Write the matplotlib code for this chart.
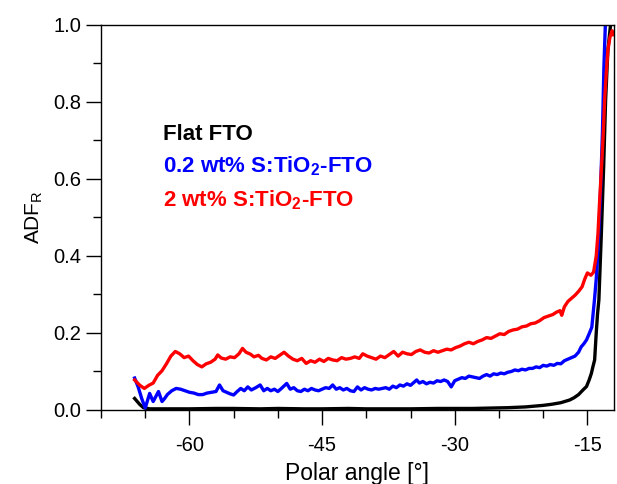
"""ADF_R vs polar angle for flat and S:TiO2-coated FTO."""

import matplotlib

matplotlib.use("Agg")
import matplotlib.pyplot as plt
from matplotlib.ticker import MultipleLocator

plt.rcParams["font.family"] = ["Liberation Sans", "DejaVu Sans"]
plt.rcParams["mathtext.fontset"] = "custom"
plt.rcParams["mathtext.rm"] = "Liberation Sans"
plt.rcParams["mathtext.bf"] = "Liberation Sans:bold"

# ── data ─────────────────────────────────────────────────────────────────────
flat_x = [-66.2, -65.9, -65.6, -65.2, -64.5, -62, -60, -57, -55, -52, -50,
          -47, -45, -42, -40, -37, -35, -32, -30, -28, -26, -24, -22, -21,
          -20, -19, -18, -17, -16.5, -16.0, -15.5, -15.1, -14.8, -14.55,
          -14.4, -14.18, -14.0, -13.85, -13.7, -13.42, -13.16, -12.94,
          -12.68, -12.4, -12.2]
flat_y = [0.030, 0.022, 0.014, 0.006, 0.003, 0.003, 0.003, 0.004, 0.004,
          0.003, 0.004, 0.003, 0.003, 0.004, 0.003, 0.003, 0.003, 0.004,
          0.004, 0.004, 0.005, 0.006, 0.008, 0.010, 0.012, 0.015, 0.019,
          0.026, 0.032, 0.040, 0.052, 0.061, 0.078, 0.095, 0.110, 0.130,
          0.200, 0.250, 0.286, 0.459, 0.632, 0.805, 0.935, 0.996, 1.02]

s02_x = [-66.2, -65.8, -65.4, -65.0, -64.8, -64.5, -64.1, -63.8, -63.5,
         -63.1, -62.8, -62.5, -62.0, -61.5, -61.0, -60.5, -60.0, -59.5,
         -59.0, -58.5, -58.0, -57.5, -57.0, -56.6, -56.2, -55.8, -55.4,
         -55.0, -54.6, -54.2, -53.8, -53.4, -53.0, -52.5, -52.0, -51.6,
         -51.2, -50.8, -50.4, -50.0, -49.6, -49.0, -48.6, -48.2, -47.8,
         -47.4, -47.0, -46.6, -46.2, -45.8, -45.4, -45.0, -44.6, -44.2,
         -43.8, -43.4, -43.0, -42.6, -42.2, -41.8, -41.4, -41.0, -40.6,
         -40.2, -39.8, -39.4, -39.0, -38.6, -38.2, -37.8, -37.4, -37.0,
         -36.6, -36.2, -35.8, -35.4, -35.0, -34.6, -34.3, -34.0, -33.6,
         -33.2, -32.8, -32.4, -32.0, -31.6, -31.2, -30.8, -30.4, -30.0,
         -29.6, -29.2, -28.8, -28.4, -28.0, -27.6, -27.2, -26.8, -26.4,
         -26.0, -25.6, -25.2, -24.8, -24.4, -24.0, -23.6, -23.2, -22.8,
         -22.4, -22.0, -21.6, -21.2, -20.8, -20.4, -20.0, -19.6, -19.2,
         -18.8, -18.4, -18.0, -17.6, -17.2, -16.8, -16.4, -16.0, -15.7,
         -15.4, -15.1, -14.8, -14.5, -14.2, -14.0, -13.8, -13.55, -13.3,
         -13.13, -12.94, -12.8]
s02_y = [0.083, 0.060, 0.030, 0.005, 0.020, 0.043, 0.022, 0.035, 0.048,
         0.022, 0.030, 0.040, 0.050, 0.056, 0.054, 0.050, 0.046, 0.044,
         0.040, 0.040, 0.044, 0.046, 0.048, 0.065, 0.050, 0.046, 0.042,
         0.039, 0.048, 0.056, 0.050, 0.060, 0.052, 0.058, 0.065, 0.050,
         0.056, 0.050, 0.054, 0.048, 0.056, 0.069, 0.054, 0.058, 0.050,
         0.048, 0.054, 0.050, 0.056, 0.052, 0.050, 0.054, 0.058, 0.056,
         0.065, 0.054, 0.058, 0.052, 0.056, 0.050, 0.048, 0.060, 0.052,
         0.058, 0.054, 0.052, 0.056, 0.054, 0.056, 0.058, 0.054, 0.062,
         0.058, 0.065, 0.062, 0.068, 0.064, 0.072, 0.078, 0.070, 0.074,
         0.068, 0.072, 0.070, 0.076, 0.074, 0.078, 0.074, 0.060, 0.076,
         0.080, 0.084, 0.082, 0.088, 0.086, 0.084, 0.082, 0.088, 0.092,
         0.088, 0.094, 0.092, 0.096, 0.094, 0.098, 0.100, 0.104, 0.102,
         0.106, 0.104, 0.108, 0.108, 0.112, 0.110, 0.116, 0.114, 0.118,
         0.116, 0.121, 0.120, 0.128, 0.132, 0.136, 0.140, 0.150, 0.164,
         0.172, 0.182, 0.198, 0.215, 0.286, 0.340, 0.416, 0.545, 0.719,
         0.892, 1.02, 1.10]

s2_x = [-66.2, -65.6, -65.1, -64.6, -64.1, -63.6, -63.1, -62.6, -62.1,
        -61.6, -61.1, -60.6, -60.1, -59.6, -59.1, -58.6, -58.1, -57.6,
        -57.1, -56.8, -56.4, -55.9, -55.4, -54.9, -54.4, -54.0, -53.6,
        -53.1, -52.7, -52.2, -51.8, -51.3, -50.8, -50.3, -49.8, -49.3,
        -48.8, -48.3, -47.8, -47.3, -46.8, -46.3, -45.8, -45.3, -44.8,
        -44.3, -43.8, -43.3, -42.8, -42.3, -41.8, -41.3, -40.8, -40.4,
        -39.9, -39.4, -38.9, -38.4, -37.9, -37.4, -36.9, -36.4, -35.9,
        -35.4, -34.9, -34.4, -33.9, -33.4, -32.9, -32.4, -31.9, -31.4,
        -30.9, -30.4, -29.9, -29.4, -28.9, -28.4, -27.9, -27.4, -26.9,
        -26.4, -25.9, -25.4, -24.9, -24.4, -23.9, -23.4, -22.9, -22.4,
        -21.9, -21.4, -20.9, -20.4, -19.9, -19.4, -18.9, -18.5, -18.1,
        -17.9, -17.6, -17.2, -16.8, -16.4, -16.0, -15.6, -15.3, -15.0,
        -14.6, -14.3, -14.0, -13.8, -13.6, -13.4, -13.2, -13.05, -12.85,
        -12.68, -12.45, -12.2, -12.05]
s2_y = [0.078, 0.064, 0.056, 0.064, 0.070, 0.090, 0.102, 0.120, 0.140,
        0.152, 0.146, 0.136, 0.140, 0.128, 0.118, 0.112, 0.120, 0.124,
        0.132, 0.143, 0.135, 0.132, 0.138, 0.136, 0.146, 0.160, 0.150,
        0.145, 0.138, 0.142, 0.134, 0.130, 0.138, 0.134, 0.142, 0.150,
        0.140, 0.132, 0.128, 0.134, 0.121, 0.128, 0.124, 0.132, 0.126,
        0.134, 0.130, 0.128, 0.136, 0.132, 0.134, 0.138, 0.134, 0.146,
        0.140, 0.136, 0.132, 0.140, 0.136, 0.144, 0.152, 0.140, 0.150,
        0.146, 0.144, 0.152, 0.156, 0.150, 0.148, 0.154, 0.150, 0.154,
        0.158, 0.156, 0.162, 0.166, 0.172, 0.176, 0.172, 0.178, 0.182,
        0.188, 0.186, 0.192, 0.198, 0.196, 0.204, 0.208, 0.210, 0.216,
        0.218, 0.224, 0.226, 0.232, 0.240, 0.244, 0.248, 0.254, 0.258,
        0.246, 0.268, 0.282, 0.290, 0.298, 0.308, 0.320, 0.340, 0.356,
        0.350, 0.358, 0.400, 0.459, 0.550, 0.632, 0.720, 0.805, 0.880,
        0.935, 0.968, 0.985, 0.975]

labels = ["Flat FTO",
          r"0.2 wt% S:TiO$_\mathbf{2}$-FTO",
          r"2 wt% S:TiO$_\mathbf{2}$-FTO"]
colors = ["black", "#0000ff", "#ff0000"]

# ── figure ───────────────────────────────────────────────────────────────────
fig = plt.figure(figsize=(6.17, 4.84), dpi=100)
ax = fig.add_axes([0.1637, 0.1529, 0.8313, 0.7955])

for xs, ys, c in zip([flat_x, s02_x, s2_x], [flat_y, s02_y, s2_y], colors):
    ax.plot(xs, ys, color=c, lw=2.4, solid_joinstyle="round")

ax.set_xlim(-70, -12)
ax.set_ylim(0, 1.0)
ax.xaxis.set_major_locator(MultipleLocator(15))
ax.xaxis.set_minor_locator(MultipleLocator(5))
ax.yaxis.set_major_locator(MultipleLocator(0.2))
ax.yaxis.set_minor_locator(MultipleLocator(0.1))
ax.xaxis.set_major_formatter(plt.FuncFormatter(lambda v, _: f"{v:.0f}"))
ax.yaxis.set_major_formatter(plt.FuncFormatter(lambda v, _: f"{v:.1f}"))
ax.tick_params(which="major", direction="out", length=11, width=1,
               labelsize=14.5, pad=3)
ax.tick_params(axis="x", which="major", pad=7.5)
ax.tick_params(which="minor", direction="out", length=5.5, width=1)
for s in ax.spines.values():
    s.set_linewidth(1)

ax.set_xlabel("Polar angle [°]", fontsize=16.5, labelpad=5)
ax.set_ylabel(r"ADF$_\mathrm{R}$", fontsize=15, labelpad=6)

for lab, c, yb in zip(labels, colors, [0.70, 0.616, 0.528]):
    ax.text(-63.0, yb, lab, color=c, fontsize=16, fontweight="bold",
            va="baseline", ha="left")

fig.savefig("out.png", dpi=100)
